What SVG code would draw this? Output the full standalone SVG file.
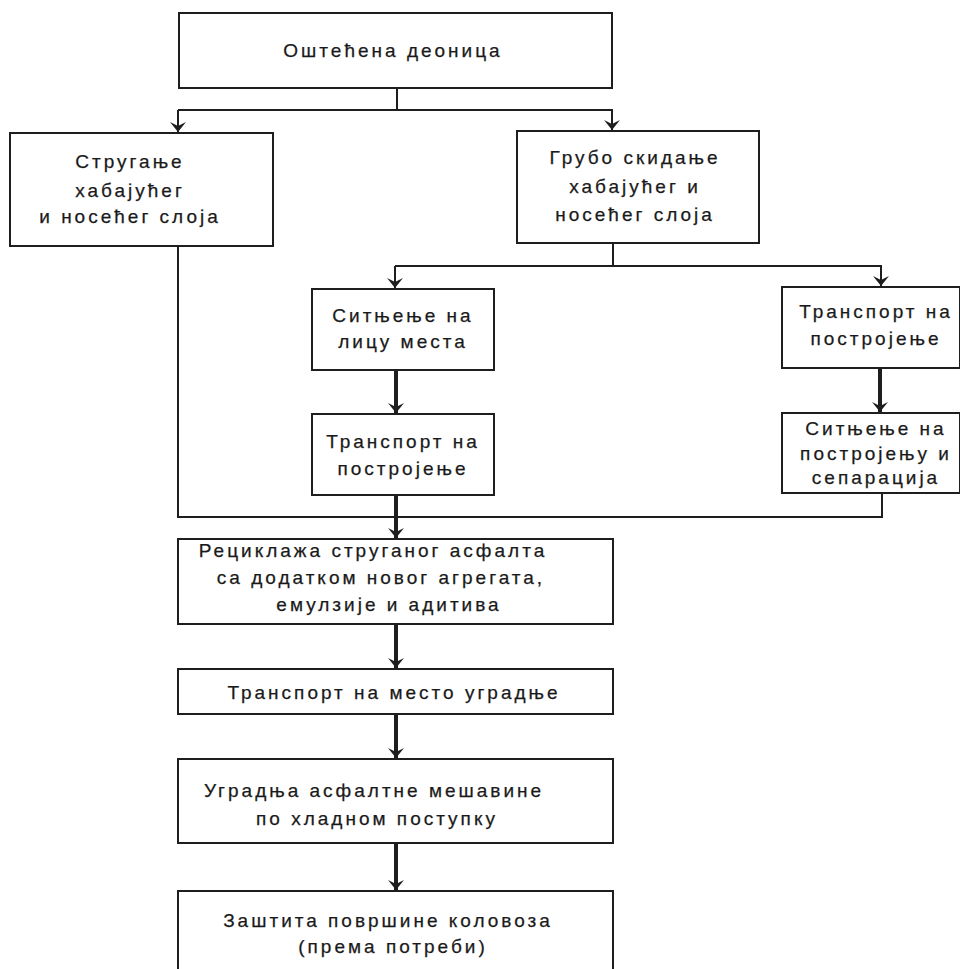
<svg xmlns="http://www.w3.org/2000/svg" width="960" height="969" viewBox="0 0 960 969">
<style>
.box{fill:#fff;stroke:#1e1e1e;stroke-width:2}
.t{font-family:"Liberation Sans","DejaVu Sans",sans-serif;font-size:19px;letter-spacing:3px;fill:#1a1a1a;stroke:#1a1a1a;stroke-width:0.25;text-anchor:middle}
.c{fill:none;stroke:#1e1e1e;stroke-width:2}
.k{fill:none;stroke:#1e1e1e;stroke-width:4}
</style>
<defs>
<marker id="ah" markerUnits="userSpaceOnUse" markerWidth="13" markerHeight="18" viewBox="-11 -9 13 18" refX="0" refY="0" orient="auto">
<path d="M0,0 L-10,-8 L-6,0 L-10,8 Z" fill="#1e1e1e"/>
</marker>
</defs>
<rect width="960" height="969" fill="#fff"/>
<g id="connectors">
<path class="c" d="M397,88 V110"/>
<path class="c" d="M178,110 H613"/>
<path class="c" d="M178,110 V132" marker-end="url(#ah)"/>
<path class="c" d="M612,110 V130" marker-end="url(#ah)"/>
<path class="c" d="M613,243 V266"/>
<path class="c" d="M395,266 H882"/>
<path class="c" d="M395,266 V288" marker-end="url(#ah)"/>
<path class="c" d="M881,266 V286" marker-end="url(#ah)"/>
<path class="c" d="M178,246 V517 H882 V493"/>
<path class="k" d="M396,370 V413" marker-end="url(#ah)"/>
<path class="k" d="M396,495 V538" marker-end="url(#ah)"/>
<path class="k" d="M880,368 V412" marker-end="url(#ah)"/>
<path class="k" d="M396,624 V668" marker-end="url(#ah)"/>
<path class="k" d="M396,714 V758" marker-end="url(#ah)"/>
<path class="k" d="M396,843 V890" marker-end="url(#ah)"/>
</g>
<g id="n1"><rect class="box" x="179" y="13" width="433" height="75"/>
<text class="t" x="393" y="57">Оштећена деоница</text></g>
<g id="n2"><rect class="box" x="10" y="133" width="263" height="113"/>
<text class="t" x="130" y="168">Стругање</text>
<text class="t" x="130" y="197">хабајућег</text>
<text class="t" x="130" y="223">и носећег слоја</text></g>
<g id="n3"><rect class="box" x="517" y="131" width="242" height="112"/>
<text class="t" x="635" y="164">Грубо скидање</text>
<text class="t" x="635" y="193">хабајућег и</text>
<text class="t" x="635" y="221">носећег слоја</text></g>
<g id="n4"><rect class="box" x="312" y="289" width="182" height="81"/>
<text class="t" x="403" y="322">Ситњење на</text>
<text class="t" x="403" y="348">лицу места</text></g>
<g id="n5"><rect class="box" x="312" y="414" width="182" height="81"/>
<text class="t" x="403" y="448">Транспорт на</text>
<text class="t" x="403" y="475">постројење</text></g>
<g id="n6"><rect class="box" x="782" y="287" width="178" height="81"/>
<text class="t" x="876" y="318">Транспорт на</text>
<text class="t" x="876" y="345">постројење</text></g>
<g id="n7"><rect class="box" x="782" y="413" width="178" height="80"/>
<text class="t" x="876" y="435">Ситњење на</text>
<text class="t" x="876" y="460">постројењу и</text>
<text class="t" x="876" y="484">сепарација</text></g>
<g id="n8"><rect class="box" x="178" y="539" width="435" height="85"/>
<text class="t" x="373" y="557">Рециклажа струганог асфалта</text>
<text class="t" x="381" y="584">са додатком новог агрегата,</text>
<text class="t" x="389" y="611">емулзије и адитива</text></g>
<g id="n9"><rect class="box" x="178" y="669" width="435" height="45"/>
<text class="t" x="394" y="699">Транспорт на место уградње</text></g>
<g id="n10"><rect class="box" x="178" y="759" width="435" height="84"/>
<text class="t" x="374" y="797">Уградња асфалтне мешавине</text>
<text class="t" x="377" y="825">по хладном поступку</text></g>
<g id="n11"><rect class="box" x="178" y="891" width="435" height="100"/>
<text class="t" x="388" y="927">Заштита површине коловоза</text>
<text class="t" x="393" y="953">(према потреби)</text></g>
</svg>
